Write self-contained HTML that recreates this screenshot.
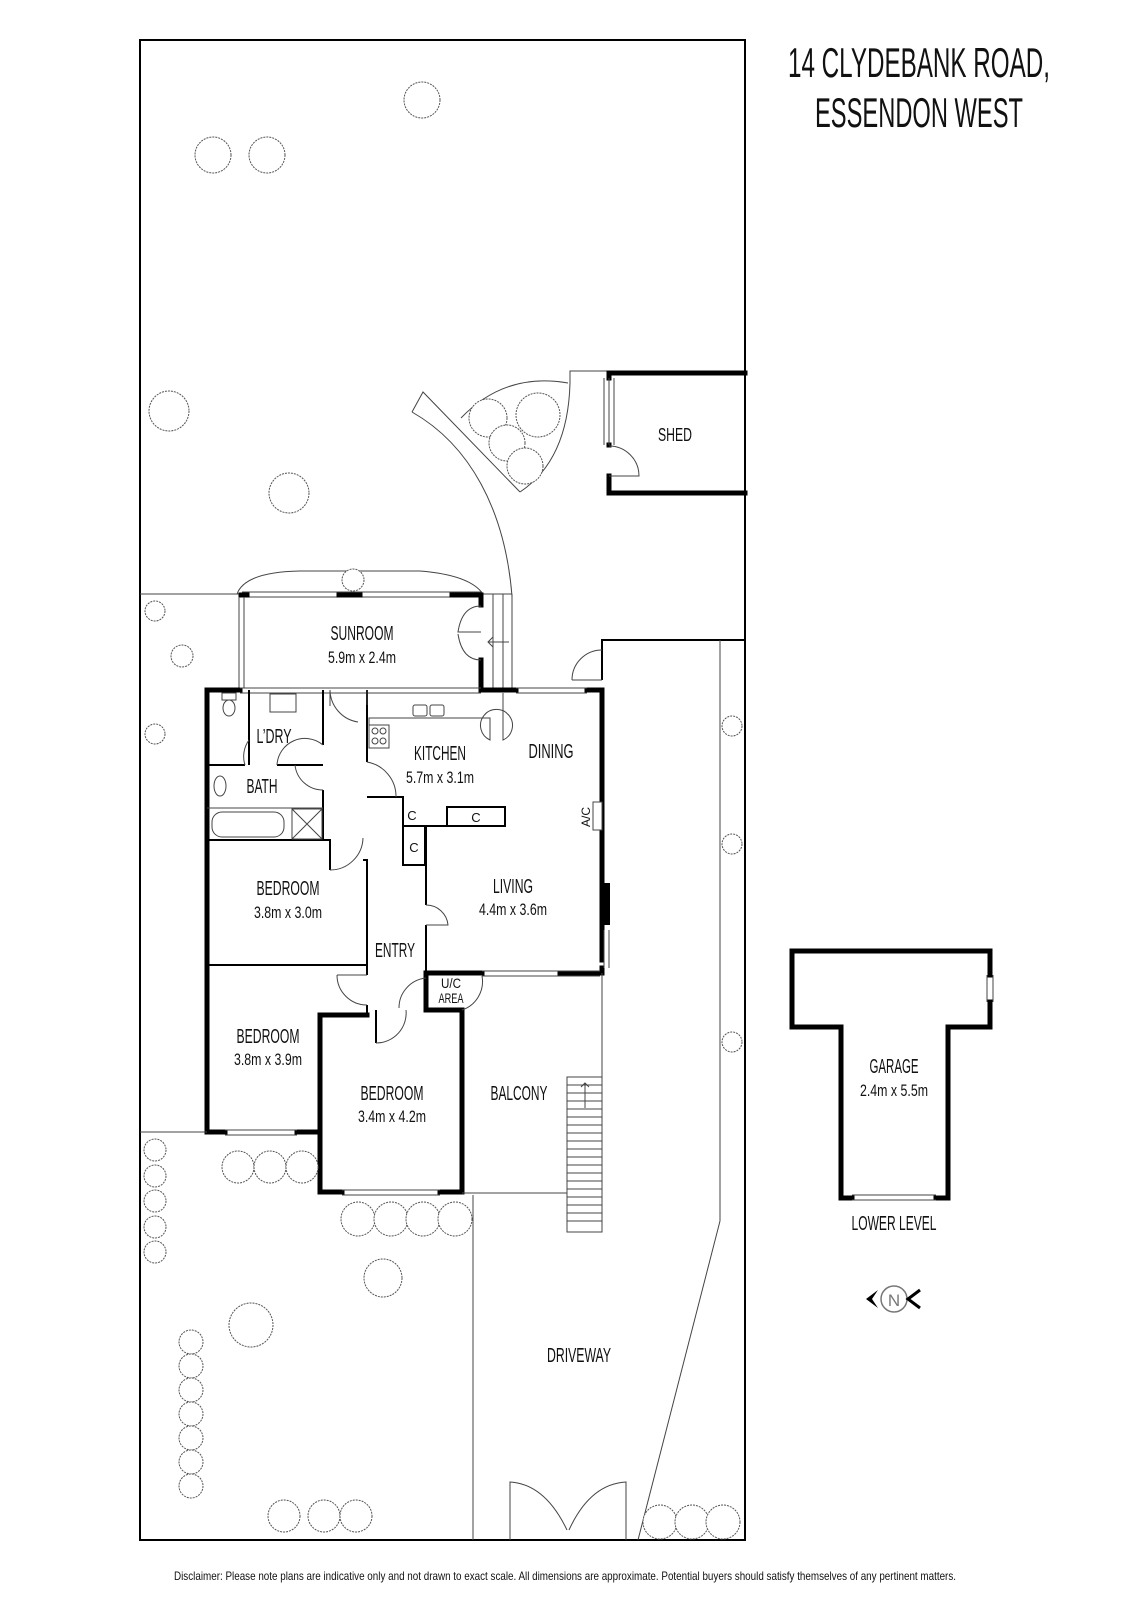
<!DOCTYPE html>
<html><head><meta charset="utf-8"><style>
html,body{margin:0;padding:0;background:#fff}
svg{display:block}
text{font-family:"Liberation Sans",sans-serif;fill:#111;text-anchor:middle}
.t{stroke:#555;stroke-width:1;fill:none}
.w{stroke:#000;stroke-width:5;fill:none;stroke-linecap:square}
.m{stroke:#000;stroke-width:2;fill:none}
.h{stroke:#444;stroke-width:1;fill:none}
.tr{stroke:#555;stroke-width:1;fill:#fff;stroke-dasharray:2 1}
</style></head><body>
<svg width="1131" height="1600" viewBox="0 0 1131 1600" xmlns="http://www.w3.org/2000/svg">
<rect x="140" y="40" width="605" height="1500" class="m"/>
<text x="919" y="77" font-size="42" textLength="262" lengthAdjust="spacingAndGlyphs">14 CLYDEBANK ROAD,</text>
<text x="919" y="127" font-size="42" textLength="208" lengthAdjust="spacingAndGlyphs">ESSENDON WEST</text>

<path class="h" d="M412,412 C470,445 505,510 512,596"/>
<path class="h" d="M412,412 L423,392 L520,492"/>
<path class="h" d="M461,418 Q505,372 568,383"/>
<path class="h" d="M520,492 Q568,460 570,383 L570,371 L607,371"/>
<path class="w" d="M745,373 L609,373 L609,378 M609,445 L609,445 M609,476 L609,493 L745,493"/>
<line x1="609" y1="378" x2="609" y2="445" class="h"/><line x1="614" y1="378" x2="614" y2="445" class="h"/><line x1="604" y1="378" x2="604" y2="445" class="h"/>
<path class="h" d="M609,446 A30,30 0 0 1 639,476 L609,476"/>
<text x="675" y="441" font-size="18" textLength="34" lengthAdjust="spacingAndGlyphs">SHED</text>

<line x1="140" y1="594" x2="242" y2="594" class="h"/>
<line x1="482" y1="594" x2="512" y2="594" class="h"/>
<path class="h" d="M237,594 Q245,572 300,571 L420,571 Q470,575 483,594"/>
<line x1="242" y1="592" x2="482" y2="592" class="h"/><line x1="242" y1="597" x2="482" y2="597" class="h"/>
<path class="w" d="M241,595 L247,595 M339,595 L360,595 M452,595 L481,595 L481,605 M481,660 L481,690"/>
<line x1="239" y1="597" x2="239" y2="688" class="h"/><line x1="244" y1="597" x2="244" y2="688" class="h"/>
<path class="h" d="M481,606 Q462,606 458,632 Q462,632 481,632 M481,660 Q462,660 458,634"/>
<line x1="493" y1="594" x2="493" y2="690" class="h"/><line x1="503" y1="594" x2="503" y2="690" class="h"/><line x1="512" y1="594" x2="512" y2="690" class="h"/>
<path class="h" d="M509,642 L488,642 M493,637 L488,642 L493,647"/>
<text x="362" y="640" font-size="20" textLength="63" lengthAdjust="spacingAndGlyphs">SUNROOM</text>
<text x="362" y="663" font-size="17" textLength="68" lengthAdjust="spacingAndGlyphs">5.9m x 2.4m</text>

<path class="w" d="M207,690 L240,690 M481,690 L516,690 M587,690 L602,690 L602,960 M602,968 L602,973 L560,973"/>
<path class="w" d="M207,690 L207,1132 L225,1132 M297,1132 L320,1132 L320,1192 L342,1192 M440,1192 L462,1192 L462,1010 L426,1010 L426,973 L482,973"/>
<path class="w" d="M320,1015 L320,1132 M320,1015 L367,1015"/>
<line x1="240" y1="688" x2="481" y2="688" class="h"/><line x1="240" y1="693" x2="481" y2="693" class="h"/>
<line x1="516" y1="688" x2="587" y2="688" class="h"/><line x1="516" y1="693" x2="587" y2="693" class="h"/>
<line x1="482" y1="971" x2="600" y2="971" class="h"/><line x1="482" y1="976" x2="600" y2="976" class="h"/>
<line x1="225" y1="1130" x2="297" y2="1130" class="h"/><line x1="225" y1="1135" x2="297" y2="1135" class="h"/>
<line x1="342" y1="1190" x2="440" y2="1190" class="h"/><line x1="342" y1="1195" x2="440" y2="1195" class="h"/>
<rect x="600" y="883" width="10" height="42" fill="#000"/>
<line x1="604" y1="930" x2="604" y2="968" class="h"/><line x1="609" y1="930" x2="609" y2="968" class="h"/>
<rect x="593" y="802" width="9" height="28" fill="#fff" stroke="#444"/>
<path class="m" d="M602,680 L602,640 L745,640"/>
<path class="h" d="M572,680 L602,680 M572,680 A30,30 0 0 1 602,650"/>
<line x1="720" y1="640" x2="720" y2="1221" class="h"/>
<line x1="720" y1="1221" x2="638" y2="1540" class="h"/>

<path class="m" d="M249,690 L249,765 M207,765 L245,765 M277,765 L323,765 M323,690 L323,745 M323,790 L323,840 M207,840 L330,840 L330,870 M363,860 L367,860 L367,967 M207,965 L367,965"/>
<path class="h" d="M245,765 A28,28 0 0 1 249,740 M277,765 A28,28 0 0 1 323,745 M323,790 A28,28 0 0 1 295,765 M330,870 A33,33 0 0 0 363,838"/>
<line x1="207" y1="808" x2="323" y2="808" class="h"/>
<rect x="212" y="812" width="72" height="25" rx="10" class="h"/>
<rect x="292" y="809" width="30" height="30" class="h"/><path class="h" d="M292,809 L322,839 M322,809 L292,839"/>
<ellipse cx="220" cy="786" rx="6" ry="10" class="h"/>
<ellipse cx="229" cy="708" rx="6" ry="8" class="h"/><rect x="222" y="693" width="14" height="7" class="h"/>
<rect x="270" y="694" width="26" height="18" class="h"/>
<path class="m" d="M367,690 L367,762 M367,797 L403,797 L403,865 L425,865 L425,826 L505,826 L505,807 L447,807 L447,826 M403,826 L425,826"/>
<path class="h" d="M367,762 A35,35 0 0 1 396,797"/>
<path class="m" d="M426,826 L426,905 M426,925 L426,973"/>
<path class="h" d="M426,905 A22,22 0 0 1 448,925 L426,925"/>
<path class="h" d="M367,690 L367,705 M330,690 L330,706 M330,690 A33,33 0 0 0 358,722"/>
<path class="h" d="M369,725 L369,718 L490,718 L490,740 A16,16 0 1 1 503,740 L503,693"/>
<rect x="369" y="725" width="20" height="23" class="h"/>
<circle cx="375" cy="731" r="3" class="h"/><circle cx="383" cy="731" r="3" class="h"/><circle cx="375" cy="741" r="3" class="h"/><circle cx="383" cy="741" r="3" class="h"/>
<rect x="413" y="705" width="14" height="11" rx="2" class="h"/><rect x="430" y="705" width="14" height="11" rx="2" class="h"/>
<text x="412" y="820" font-size="13">C</text><text x="476" y="822" font-size="13">C</text><text x="414" y="852" font-size="13">C</text>
<path class="m" d="M367,965 L367,975 M367,1005 L367,1015 M376,1010 L376,1043"/>
<path class="h" d="M337,975 A30,30 0 0 0 367,1005 M337,975 L367,975 M376,1043 A30,30 0 0 0 406,1010 M399,1008 A30,30 0 0 1 426,978 M482,976 A30,30 0 0 1 462,1010"/>
<line x1="462" y1="1193" x2="567" y2="1193" class="h"/>
<line x1="602" y1="973" x2="602" y2="1232" class="h"/>
<rect x="567" y="1077" width="35" height="155" class="h"/>
<path class="h" d="M567,1085H602M567,1093H602M567,1101H602M567,1109H602M567,1117H602M567,1125H602M567,1133H602M567,1141H602M567,1149H602M567,1157H602M567,1165H602M567,1173H602M567,1181H602M567,1189H602M567,1197H602M567,1205H602M567,1213H602M567,1221H602M585,1108V1083M581,1087L585,1083L589,1087"/>
<line x1="140" y1="1132" x2="207" y2="1132" class="h"/>
<line x1="473" y1="1195" x2="473" y2="1540" class="h"/>
<path class="h" d="M510,1540 L510,1482 Q545,1484 567,1530 M626,1540 L626,1482 Q590,1484 569,1530"/>

<text x="274" y="743" font-size="20" textLength="35" lengthAdjust="spacingAndGlyphs">L’DRY</text>
<text x="440" y="760" font-size="20" textLength="52" lengthAdjust="spacingAndGlyphs">KITCHEN</text>
<text x="440" y="783" font-size="17" textLength="68" lengthAdjust="spacingAndGlyphs">5.7m x 3.1m</text>
<text x="551" y="758" font-size="20" textLength="45" lengthAdjust="spacingAndGlyphs">DINING</text>
<text x="262" y="793" font-size="20" textLength="31" lengthAdjust="spacingAndGlyphs">BATH</text>
<text x="0" y="0" font-size="12" transform="translate(590,817) rotate(-90)">A/C</text>
<text x="288" y="895" font-size="20" textLength="63" lengthAdjust="spacingAndGlyphs">BEDROOM</text>
<text x="288" y="918" font-size="17" textLength="68" lengthAdjust="spacingAndGlyphs">3.8m x 3.0m</text>
<text x="513" y="893" font-size="20" textLength="40" lengthAdjust="spacingAndGlyphs">LIVING</text>
<text x="513" y="915" font-size="17" textLength="68" lengthAdjust="spacingAndGlyphs">4.4m x 3.6m</text>
<text x="395" y="957" font-size="20" textLength="40" lengthAdjust="spacingAndGlyphs">ENTRY</text>
<text x="451" y="988" font-size="14" textLength="20" lengthAdjust="spacingAndGlyphs">U/C</text>
<text x="451" y="1003" font-size="14" textLength="25" lengthAdjust="spacingAndGlyphs">AREA</text>
<text x="268" y="1043" font-size="20" textLength="63" lengthAdjust="spacingAndGlyphs">BEDROOM</text>
<text x="268" y="1065" font-size="17" textLength="68" lengthAdjust="spacingAndGlyphs">3.8m x 3.9m</text>
<text x="392" y="1100" font-size="20" textLength="63" lengthAdjust="spacingAndGlyphs">BEDROOM</text>
<text x="392" y="1122" font-size="17" textLength="68" lengthAdjust="spacingAndGlyphs">3.4m x 4.2m</text>
<text x="519" y="1100" font-size="20" textLength="57" lengthAdjust="spacingAndGlyphs">BALCONY</text>
<text x="579" y="1362" font-size="20" textLength="64" lengthAdjust="spacingAndGlyphs">DRIVEWAY</text>

<path class="w" d="M990,975 L990,951 L792,951 L792,1027 L841,1027 L841,1198 L852,1198 M936,1198 L948,1198 L948,1027 L990,1027 L990,1002"/>
<line x1="987" y1="975" x2="987" y2="1002" class="h"/><line x1="993" y1="975" x2="993" y2="1002" class="h"/>
<line x1="852" y1="1195" x2="936" y2="1195" class="h"/><line x1="852" y1="1200" x2="936" y2="1200" class="h"/>
<text x="894" y="1073" font-size="20" textLength="49" lengthAdjust="spacingAndGlyphs">GARAGE</text>
<text x="894" y="1096" font-size="17" textLength="68" lengthAdjust="spacingAndGlyphs">2.4m x 5.5m</text>
<text x="894" y="1230" font-size="20" textLength="85" lengthAdjust="spacingAndGlyphs">LOWER LEVEL</text>
<circle cx="894" cy="1299" r="13" fill="none" stroke="#777" stroke-width="1.5"/>
<text x="894" y="1306" font-size="17" style="fill:#777">N</text>
<path d="M878,1290 L866,1299 L878,1308 L872,1299 Z" fill="#000"/>
<path d="M920,1290 L908,1299 L920,1308" fill="none" stroke="#000" stroke-width="3"/>

<g class="tr">
<circle cx="422" cy="100" r="18"/><circle cx="213" cy="155" r="18"/><circle cx="267" cy="155" r="18"/>
<circle cx="169" cy="411" r="20"/><circle cx="289" cy="493" r="20"/>
<circle cx="155" cy="611" r="10"/><circle cx="182" cy="656" r="11"/><circle cx="155" cy="734" r="10"/>
<circle cx="353" cy="580" r="11"/>
<circle cx="488" cy="418" r="19"/><circle cx="538" cy="415" r="22"/><circle cx="507" cy="443" r="18"/><circle cx="525" cy="466" r="18"/>
<circle cx="732" cy="726" r="10"/><circle cx="732" cy="844" r="10"/><circle cx="732" cy="1042" r="10"/>
<circle cx="155" cy="1150" r="11"/><circle cx="155" cy="1176" r="11"/><circle cx="155" cy="1201" r="11"/><circle cx="155" cy="1227" r="11"/><circle cx="155" cy="1252" r="11"/>
<circle cx="238" cy="1167" r="16"/><circle cx="270" cy="1167" r="16"/><circle cx="302" cy="1167" r="16"/>
<circle cx="358" cy="1219" r="17"/><circle cx="391" cy="1219" r="17"/><circle cx="423" cy="1219" r="17"/><circle cx="455" cy="1219" r="17"/>
<circle cx="383" cy="1278" r="19"/><circle cx="251" cy="1325" r="22"/>
<circle cx="191" cy="1342" r="12"/><circle cx="191" cy="1366" r="12"/><circle cx="191" cy="1390" r="12"/><circle cx="191" cy="1414" r="12"/><circle cx="191" cy="1438" r="12"/><circle cx="191" cy="1462" r="12"/><circle cx="191" cy="1486" r="12"/>
<circle cx="284" cy="1516" r="16"/><circle cx="324" cy="1516" r="16"/><circle cx="356" cy="1516" r="16"/>
<circle cx="660" cy="1522" r="17"/><circle cx="692" cy="1522" r="17"/><circle cx="723" cy="1522" r="17"/>
</g>
<text x="565" y="1580" font-size="12" textLength="782" lengthAdjust="spacingAndGlyphs">Disclaimer: Please note plans are indicative only and not drawn to exact scale. All dimensions are approximate. Potential buyers should satisfy themselves of any pertinent matters.</text>
</svg>
</body></html>
